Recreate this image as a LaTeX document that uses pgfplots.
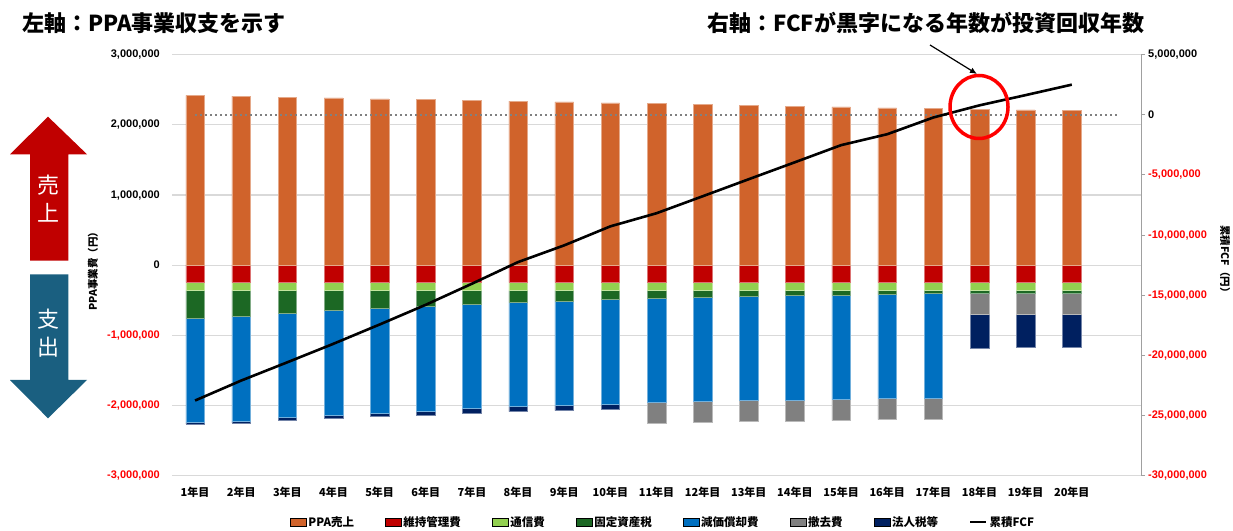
\documentclass[border=0pt]{standalone}
\usepackage{fontspec}
\setmainfont{Liberation Sans}
\newfontfamily\jp{Noto Sans CJK JP}
\usepackage{pgfplots}
\usepackage{pgfplotstable}
\pgfplotsset{compat=1.18}
\usetikzlibrary{arrows.meta}

\definecolor{ppac}{RGB}{208,99,43}
\definecolor{maintc}{RGB}{192,0,0}
\definecolor{commc}{RGB}{146,208,80}
\definecolor{taxc}{RGB}{28,104,36}
\definecolor{depc}{RGB}{0,112,192}
\definecolor{remc}{RGB}{128,128,128}
\definecolor{corpc}{RGB}{0,32,96}
\definecolor{upc}{RGB}{192,0,0}
\definecolor{downc}{RGB}{26,95,128}
\definecolor{gridc}{RGB}{217,217,217}
\definecolor{axc}{RGB}{160,160,160}

% 年ごとの収支（円）と累積FCF（円）
\pgfplotstableread{
yr ppa     maint   comm    tax     dep      rem     corp    fcf
1  2422000 -240000 -124000 -390000 -1490000 0       -20000  -23750000
2  2408000 -240000 -124000 -370000 -1490000 0       -23000  -22090000
3  2396000 -240000 -124000 -318000 -1490000 0       -34000  -20570000
4  2383000 -240000 -124000 -280000 -1490000 0       -47000  -19030000
5  2370000 -240000 -124000 -252000 -1490000 0       -52000  -17430000
6  2362000 -240000 -124000 -223000 -1490000 0       -57000  -15790000
7  2350000 -240000 -124000 -190000 -1490000 0       -66000  -14040000
8  2339000 -240000 -124000 -161000 -1490000 0       -71000  -12240000
9  2326000 -240000 -124000 -147000 -1490000 0       -71000  -10850000
10 2313000 -240000 -124000 -124000 -1490000 0       -76000  -9270000
11 2301000 -240000 -124000 -104000 -1490000 -300000 0       -8180000
12 2289000 -240000 -124000 -90000  -1490000 -300000 0       -6770000
13 2278000 -240000 -124000 -76000  -1490000 -300000 0       -5350000
14 2266000 -240000 -124000 -67000  -1490000 -300000 0       -3940000
15 2255000 -240000 -124000 -61000  -1490000 -300000 0       -2520000
16 2243000 -240000 -124000 -47000  -1490000 -300000 0       -1610000
17 2233000 -240000 -124000 -38000  -1490000 -300000 0       -220000
18 2222000 -240000 -124000 -40000  0        -300000 -475000 790000
19 2212000 -240000 -124000 -30000  0        -300000 -475000 1640000
20 2202000 -240000 -124000 -30000  0        -300000 -470000 2510000
}\costs

\pgfplotsset{
  base/.style={scale only axis, width=969pt, height=421pt,
    at={(172pt,54.3pt)}, anchor=south west,
    xmin=0.5, xmax=21.5, scaled y ticks=false, clip=false},
  seg/.style={fill=#1, draw=#1!55!white, line width=0.5pt},
}

\begin{document}
\begin{tikzpicture}[x=1pt,y=1pt]
\useasboundingbox (0,0) rectangle (1233,530);

% 左軸：費用（積み上げ、下向き）
\begin{axis}[base, ybar stacked, bar width=18.6pt,
  ymin=-3000000, ymax=3000000,
  ytick={-3000000,-2000000,-1000000,0,1000000,2000000,3000000},
  yticklabels={{\textcolor{red}{-3,000,000}},{\textcolor{red}{-2,000,000}},{\textcolor{red}{-1,000,000}},{0},{1,000,000},{2,000,000},{3,000,000}},
  yticklabel style={font=\bfseries\fontsize{11}{13}\selectfont, inner sep=0pt, xshift=-12pt},
  xtick={1,2,...,20},
  xticklabels={1年目,2年目,3年目,4年目,5年目,6年目,7年目,8年目,9年目,10年目,11年目,12年目,13年目,14年目,15年目,16年目,17年目,18年目,19年目,20年目},
  xticklabel style={font=\jp\bfseries\fontsize{11}{13}\selectfont, inner sep=0pt, yshift=-11pt},
  axis line style={draw=none}, major tick length=0pt,
  ymajorgrids, grid style={gridc, line width=1.2pt}]
\addplot[seg=maintc] table[x=yr,y=maint]{\costs};
\addplot[seg=commc] table[x=yr,y=comm]{\costs};
\addplot[seg=taxc] table[x=yr,y=tax]{\costs};
\addplot[seg=depc] table[x=yr,y=dep]{\costs};
\addplot[seg=remc] table[x=yr,y=rem]{\costs};
\addplot[seg=corpc] table[x=yr,y=corp]{\costs};
\end{axis}

% 左軸：PPA売上（上向き）
\begin{axis}[base, hide axis, ybar, bar width=18.6pt, bar shift=0pt,
  ymin=-3000000, ymax=3000000]
\addplot[seg=ppac] table[x=yr,y=ppa]{\costs};
\end{axis}

% 右軸：累積FCF
\begin{axis}[base, axis x line=none, axis y line*=right,
  ymin=-30000000, ymax=5000000,
  ytick={-30000000,-25000000,-20000000,-15000000,-10000000,-5000000,0,5000000},
  yticklabels={{\textcolor{red}{-30,000,000}},{\textcolor{red}{-25,000,000}},{\textcolor{red}{-20,000,000}},{\textcolor{red}{-15,000,000}},{\textcolor{red}{-10,000,000}},{\textcolor{red}{-5,000,000}},{0},{5,000,000}},
  yticklabel style={font=\bfseries\fontsize{11}{13}\selectfont, inner sep=0pt, xshift=3pt},
  axis line style={axc, line width=1pt},
  tick style={axc, line width=1pt}, tick align=outside, major tick length=4pt,
  legend columns=-1,
  legend style={at={(0.5067,-0.11)}, anchor=center, draw=none, fill=none,
    font=\jp\bfseries\fontsize{11.5}{13}\selectfont,
    /tikz/every even column/.append style={column sep=29pt}},
  legend image code/.code={\fill[#1] (0pt,-4pt) rectangle (16pt,4pt);}]
\addlegendimage{fill=ppac}\addlegendentry{PPA売上}
\addlegendimage{fill=maintc}\addlegendentry{維持管理費}
\addlegendimage{fill=commc}\addlegendentry{通信費}
\addlegendimage{fill=taxc}\addlegendentry{固定資産税}
\addlegendimage{fill=depc}\addlegendentry{減価償却費}
\addlegendimage{fill=remc}\addlegendentry{撤去費}
\addlegendimage{fill=corpc}\addlegendentry{法人税等}
\addplot[forget plot, remc, line width=2pt, dash pattern=on 2pt off 3pt]
  coordinates {(1,0) (21,0)};
\addplot[black, line width=2.6pt,
  legend image code/.code={\draw[black, line width=2.6pt] (0pt,0pt) -- (16pt,0pt);}]
  table[x=yr,y=fcf]{\costs};
\addlegendentry{累積FCF}
\end{axis}

% 軸タイトル
\node[rotate=90, font=\jp\bfseries\fontsize{10.5}{12}\selectfont] at (93,261.3) {PPA事業費（円）};
\node[rotate=-90, font=\jp\bfseries\fontsize{10.5}{12}\selectfont] at (1225,268.5) {累積FCF（円）};

% 見出し
\node[anchor=west, inner sep=0pt, font=\jp\bfseries\fontsize{22}{26}\selectfont] at (22,507) {左軸：PPA事業収支を示す};
\node[anchor=west, inner sep=0pt, font=\jp\bfseries\fontsize{22}{26}\selectfont] at (707,507) {右軸：FCFが黒字になる年数が投資回収年数};

% 売上・支出の矢印
\fill[upc] (48,413.3) -- (87,375.7) -- (68.3,375.7) -- (68.3,269.3) -- (30,269.3) -- (30,375.7) -- (10,375.7) -- cycle;
\fill[downc] (30,255.7) -- (68.3,255.7) -- (68.3,150) -- (87,150) -- (48,111.7) -- (10,150) -- (30,150) -- cycle;
\node[white, font=\jp\fontsize{22}{26}\selectfont] at (48,345) {売};
\node[white, font=\jp\fontsize{22}{26}\selectfont] at (48,317) {上};
\node[white, font=\jp\fontsize{22}{26}\selectfont] at (48,211) {支};
\node[white, font=\jp\fontsize{22}{26}\selectfont] at (48,182.5) {出};

% 投資回収年の強調
\draw[red, line width=3.5pt] (979,423) ellipse [x radius=29, y radius=31.5];
\draw[black, line width=1.2pt, -{Latex[length=7pt,width=6pt]}] (930,485) -- (977,456);
\end{tikzpicture}
\end{document}
